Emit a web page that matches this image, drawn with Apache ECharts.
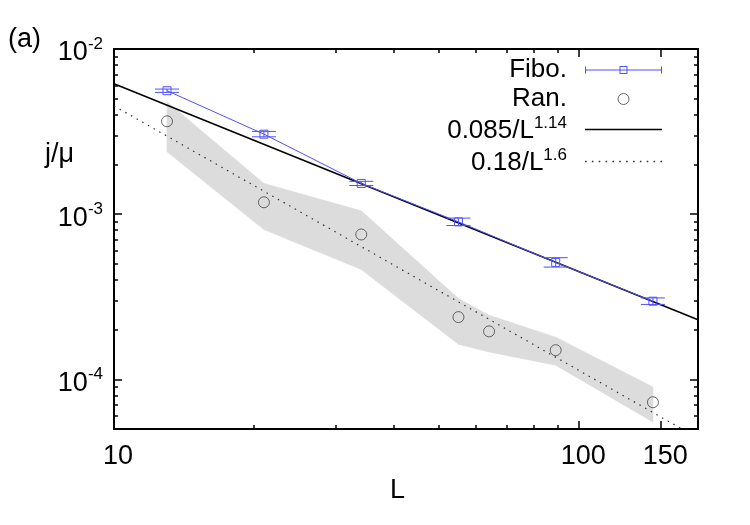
<!DOCTYPE html>
<html>
<head>
<meta charset="utf-8">
<title>j/mu vs L</title>
<script src="https://cdn.jsdelivr.net/npm/echarts@6/dist/echarts.min.js"></script>
<style>
  html, body { margin: 0; padding: 0; background: #fff; }
  #chart { width: 750px; height: 525px; }
</style>
</head>
<body>
<div id="chart"></div>
<script>
// Fibonacci chains: current j/mu with error bars
const fiboL = [13, 21, 34, 55, 89, 144];
const fiboJ = [5.59e-3, 3.05e-3, 1.535e-3, 8.98e-4, 5.10e-4, 2.97e-4];
const fiboLow = [5.46e-3, 2.94e-3, 1.49e-3, 8.53e-4, 4.78e-4, 2.84e-4];
const fiboHigh = [5.72e-3, 3.17e-3, 1.58e-3, 9.46e-4, 5.45e-4, 3.11e-4];

// random chains: mean and spread (grey band)
const ranL = [13, 21, 34, 55, 64, 89, 144];
const ranJ = [3.65e-3, 1.18e-3, 7.53e-4, 2.38e-4, 1.95e-4, 1.50e-4, 7.26e-5];
const ranLow = [2.385e-3, 8.07e-4, 4.62e-4, 1.63e-4, 1.464e-4, 1.216e-4, 5.51e-5];
const ranHigh = [4.79e-3, 1.535e-3, 1.047e-3, 3.08e-4, 2.44e-4, 1.80e-4, 8.98e-5];

// fit lines (end points)
const fitSolidL = [10, 180];
const fitSolidJ = [6.16e-3, 2.29e-4];
const fitDotL = [10, 180];
const fitDotJ = [4.52e-3, 4.4e-5];

// ticks
const xMajorTicks = [10, 100, 150];
const xMinorTicks = [20, 30, 40, 50, 60, 70, 80, 90];
const yMajorTicks = [1e-4, 1e-3, 1e-2];
const yMinorTicks = [6e-5, 7e-5, 8e-5, 9e-5,
  2e-4, 3e-4, 4e-4, 5e-4, 6e-4, 7e-4, 8e-4, 9e-4,
  2e-3, 3e-3, 4e-3, 5e-3, 6e-3, 7e-3, 8e-3, 9e-3];

const xMin = 10, xMax = 180, yMin = 5e-5, yMax = 1e-2;

const lg = Math.log10;
const FONT = "'Liberation Sans', Arial, sans-serif";
const BLUE = "#5050ff";

function xAxisDef(position, ticks, len, withLabels) {
  return {
    type: "value",
    position: position,
    min: lg(xMin),
    max: lg(xMax),
    axisLine: { show: true, onZero: false, lineStyle: { color: "#000", width: 2 } },
    axisTick: {
      show: true, inside: true, length: len,
      customValues: ticks.map(lg),
      lineStyle: { color: "#000", width: 1.5 }
    },
    axisLabel: withLabels ? {
      show: true,
      customValues: ticks.map(lg),
      formatter: function (v) { return String(Math.round(Math.pow(10, v))); },
      fontSize: 27, fontFamily: FONT, color: "#000",
      margin: 14, padding: [0, 0, 0, 8]
    } : { show: false },
    splitLine: { show: false }
  };
}

function yAxisDef(position, ticks, len, withLabels) {
  return {
    type: "value",
    position: position,
    min: lg(yMin),
    max: lg(yMax),
    axisLine: { show: true, onZero: false, lineStyle: { color: "#000", width: 2 } },
    axisTick: {
      show: true, inside: true, length: len,
      customValues: ticks.map(lg),
      lineStyle: { color: "#000", width: 1.5 }
    },
    axisLabel: withLabels ? {
      show: true,
      customValues: ticks.map(lg),
      formatter: function (v) { return "{b|10}{s|" + Math.round(v) + "}"; },
      margin: 11,
      padding: [8, 0, 0, 0],
      rich: {
        b: { fontSize: 27, fontFamily: FONT, color: "#000", lineHeight: 34 },
        s: { fontSize: 17, fontFamily: FONT, color: "#000", lineHeight: 16, verticalAlign: "top" }
      }
    } : { show: false },
    splitLine: { show: false }
  };
}

function legendName(name) {
  const parts = name.split("^");
  if (parts.length > 1) {
    return "{b|" + parts[0] + "}{s|" + parts[1] + "}{sp|}";
  }
  return "{t|" + name + "}{sp|}";
}

// legend icons, drawn in a 77 x 11 box
const fiboIcon = "path://M0,5H77V6H0Z M0,2H1V9H0Z M76,2H77V9H76Z " +
  "M34.5,1.5H42.5V9.5H34.5Z M35.5,2.5V8.5H41.5V2.5Z";
let dots = "";
for (let x = 0; x < 77; x += 6.5) {
  dots += "M" + x + ",5H" + (x + 1.5) + "V6.2H" + x + "Z ";
}

const chart = echarts.init(document.getElementById("chart"));

chart.setOption({
  animation: false,
  backgroundColor: "#fff",
  grid: { left: 114, right: 52, top: 49, bottom: 96, containLabel: false, outerBoundsMode: "none" },
  xAxis: [
    xAxisDef("bottom", xMajorTicks, 8, true),
    xAxisDef("bottom", xMinorTicks, 4, false),
    xAxisDef("top", xMajorTicks, 8, false),
    xAxisDef("top", xMinorTicks, 4, false)
  ],
  yAxis: [
    yAxisDef("left", yMajorTicks, 8, true),
    yAxisDef("left", yMinorTicks, 4, false),
    yAxisDef("right", yMajorTicks, 8, false),
    yAxisDef("right", yMinorTicks, 4, false)
  ],
  legend: {
    orient: "vertical",
    align: "right",
    right: 88,
    top: 57,
    padding: 0,
    itemGap: 3,
    itemWidth: 77,
    itemHeight: 11,
    formatter: legendName,
    textStyle: {
      fontSize: 26, fontFamily: FONT, color: "#000",
      rich: {
        t: { fontSize: 26, fontFamily: FONT, color: "#000", lineHeight: 29 },
        b: { fontSize: 26, fontFamily: FONT, color: "#000", lineHeight: 23, verticalAlign: "bottom" },
        s: { fontSize: 17, fontFamily: FONT, color: "#000", lineHeight: 12, verticalAlign: "top" },
        sp: { width: 13, lineHeight: 29 }
      }
    },
    data: [
      { name: "Fibo.", icon: fiboIcon, itemStyle: { color: BLUE, borderWidth: 0 } },
      { name: "Ran.", icon: "circle", itemStyle: { color: "transparent", borderColor: "#444", borderWidth: 1 } },
      { name: "0.085/L^1.14", icon: "path://M0,4.7H77V6.3H0Z", itemStyle: { color: "#000", borderWidth: 0 } },
      { name: "0.18/L^1.6", icon: "path://" + dots, itemStyle: { color: "#333", borderWidth: 0 } }
    ]
  },
  graphic: [
    { type: "text", left: 8, top: 26, style: { text: "(a)", fontSize: 27, fontFamily: FONT, fill: "#000" } },
    { type: "text", left: 45, top: 141, style: { text: "j/\u03bc", fontSize: 27, fontFamily: FONT, fill: "#000" } },
    { type: "text", left: 390, top: 477, style: { text: "L", fontSize: 27, fontFamily: FONT, fill: "#000" } }
  ],
  series: [
    {
      // grey spread band of Ran., one quad between neighbouring sizes
      type: "custom",
      silent: true,
      clip: true,
      data: ranL.slice(0, -1).map(function (l, i) {
        return [lg(l), lg(ranL[i + 1]), lg(ranLow[i]), lg(ranHigh[i]), lg(ranLow[i + 1]), lg(ranHigh[i + 1])];
      }),
      encode: { x: [0, 1], y: [2, 3, 4, 5] },
      renderItem: function (params, api) {
        const x0 = api.value(0), x1 = api.value(1);
        const pts = [
          api.coord([x0, api.value(3)]),
          api.coord([x1, api.value(5)]),
          api.coord([x1, api.value(4)]),
          api.coord([x0, api.value(2)])
        ];
        return {
          type: "polygon",
          shape: { points: pts },
          style: { fill: "#dcdcdc", stroke: "#dcdcdc", lineWidth: 0.6 }
        };
      },
      z: 1
    },
    {
      name: "0.085/L^1.14",
      type: "line",
      data: fitSolidL.map(function (l, i) { return [lg(l), lg(fitSolidJ[i])]; }),
      symbol: "none",
      lineStyle: { color: "#000", width: 1.6 },
      itemStyle: { color: "#000" },
      z: 3
    },
    {
      name: "0.18/L^1.6",
      type: "line",
      data: fitDotL.map(function (l, i) { return [lg(l), lg(fitDotJ[i])]; }),
      symbol: "none",
      lineStyle: { color: "#333", width: 1.2, type: [1.5, 5] },
      itemStyle: { color: "#333" },
      z: 3
    },
    {
      name: "Fibo.",
      type: "line",
      data: fiboL.map(function (l, i) { return [lg(l), lg(fiboJ[i])]; }),
      symbol: "rect",
      symbolSize: 8,
      itemStyle: { color: "transparent", borderColor: BLUE, borderWidth: 1 },
      lineStyle: { color: BLUE, width: 1 },
      z: 5
    },
    {
      // error bars of Fibo.
      type: "custom",
      data: fiboL.map(function (l, i) { return [lg(l), lg(fiboLow[i]), lg(fiboHigh[i])]; }),
      encode: { x: 0, y: [1, 2] },
      renderItem: function (params, api) {
        const lo = api.coord([api.value(0), api.value(1)]);
        const hi = api.coord([api.value(0), api.value(2)]);
        const cap = 12;
        const style = { stroke: BLUE, lineWidth: 1 };
        return {
          type: "group",
          children: [
            { type: "line", shape: { x1: lo[0], y1: lo[1], x2: hi[0], y2: hi[1] }, style: style },
            { type: "line", shape: { x1: lo[0] - cap, y1: lo[1], x2: lo[0] + cap, y2: lo[1] }, style: style },
            { type: "line", shape: { x1: hi[0] - cap, y1: hi[1], x2: hi[0] + cap, y2: hi[1] }, style: style }
          ]
        };
      },
      z: 6
    },
    {
      name: "Ran.",
      type: "scatter",
      data: ranL.map(function (l, i) { return [lg(l), lg(ranJ[i])]; }),
      symbol: "circle",
      symbolSize: 11,
      itemStyle: { color: "transparent", borderColor: "#444", borderWidth: 1 },
      z: 6
    }
  ]
});
</script>
</body>
</html>
